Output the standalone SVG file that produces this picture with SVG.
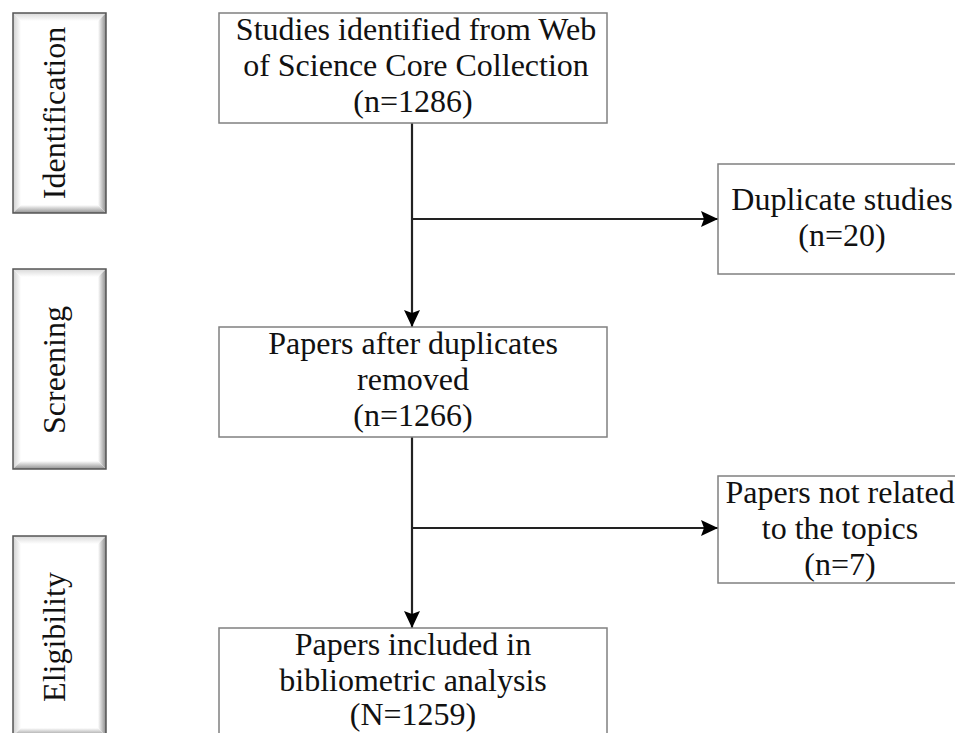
<svg xmlns="http://www.w3.org/2000/svg" width="955" height="733" viewBox="0 0 955 733">
<style>
.box{fill:#fff;stroke:#808080;stroke-width:1.5}
.t{font-family:"Liberation Serif","Times New Roman",serif;font-size:32px;fill:#111;text-anchor:middle}
.c{stroke:#222;stroke-width:2.2;fill:none}
</style>
<defs>
<linearGradient id="gr" x1="0" y1="0" x2="1" y2="0"><stop offset="0" stop-color="#fff"/><stop offset="1" stop-color="#8a8a8a"/></linearGradient>
<linearGradient id="gb" x1="0" y1="0" x2="0" y2="1"><stop offset="0" stop-color="#fff"/><stop offset="1" stop-color="#909090"/></linearGradient>
<linearGradient id="gl" x1="0" y1="0" x2="1" y2="0"><stop offset="0" stop-color="#d0d0d0"/><stop offset="1" stop-color="#fff"/></linearGradient>
<linearGradient id="gt" x1="0" y1="0" x2="0" y2="1"><stop offset="0" stop-color="#d8d8d8"/><stop offset="1" stop-color="#fff"/></linearGradient>
<g id="bevel">
<rect x="0" y="0" width="93" height="200" fill="#fff"/>
<polygon points="0,0 93,0 85,8 8,8" fill="url(#gt)"/>
<polygon points="0,0 8,8 8,192 0,200" fill="url(#gl)"/>
<polygon points="93,0 93,200 85,192 85,8" fill="url(#gr)"/>
<polygon points="0,200 93,200 85,192 8,192" fill="url(#gb)"/>
<rect x="0" y="0" width="93" height="200" fill="none" stroke="#555" stroke-width="1.5"/>
</g>
<marker id="ah" markerWidth="18" markerHeight="16" refX="17" refY="8" orient="auto" markerUnits="userSpaceOnUse">
<path d="M0,0 L17,8 L0,16 L3,8 Z" fill="#000"/>
</marker>
</defs>

<g id="stage-identification">
<use href="#bevel" x="13" y="13"/>
<text class="t" transform="translate(65,113) rotate(-90)">Identification</text>
</g>
<g id="stage-screening">
<use href="#bevel" x="13" y="269"/>
<text class="t" transform="translate(65,370) rotate(-90)">Screening</text>
</g>
<g id="stage-eligibility">
<use href="#bevel" x="13" y="536"/>
<text class="t" transform="translate(65,637) rotate(-90)">Eligibility</text>
</g>

<g id="connectors">
<line class="c" x1="412" y1="123" x2="412" y2="327" marker-end="url(#ah)"/>
<line class="c" x1="412" y1="219" x2="718" y2="219" marker-end="url(#ah)"/>
<line class="c" x1="412" y1="437" x2="412" y2="628" marker-end="url(#ah)"/>
<line class="c" x1="412" y1="528" x2="718" y2="528" marker-end="url(#ah)"/>
</g>

<g id="node-identified">
<rect class="box" x="219" y="13" width="388" height="110"/>
<text class="t" x="416" y="40">Studies identified from Web</text>
<text class="t" x="416" y="76">of Science Core Collection</text>
<text class="t" x="413" y="112">(n=1286)</text>
</g>
<g id="node-duplicates">
<rect class="box" x="718" y="164" width="250" height="110"/>
<text class="t" x="842" y="210">Duplicate studies</text>
<text class="t" x="842" y="246">(n=20)</text>
</g>
<g id="node-screened">
<rect class="box" x="219" y="327" width="388" height="110"/>
<text class="t" x="413" y="354">Papers after duplicates</text>
<text class="t" x="413" y="390">removed</text>
<text class="t" x="413" y="426">(n=1266)</text>
</g>
<g id="node-unrelated">
<rect class="box" x="718" y="476" width="250" height="107"/>
<text class="t" x="840" y="503">Papers not related</text>
<text class="t" x="840" y="539">to the topics</text>
<text class="t" x="840" y="575">(n=7)</text>
</g>
<g id="node-included">
<rect class="box" x="219" y="628" width="388" height="120"/>
<text class="t" x="413" y="655">Papers included in</text>
<text class="t" x="413" y="691">bibliometric analysis</text>
<text class="t" x="413" y="725">(N=1259)</text>
</g>
</svg>
